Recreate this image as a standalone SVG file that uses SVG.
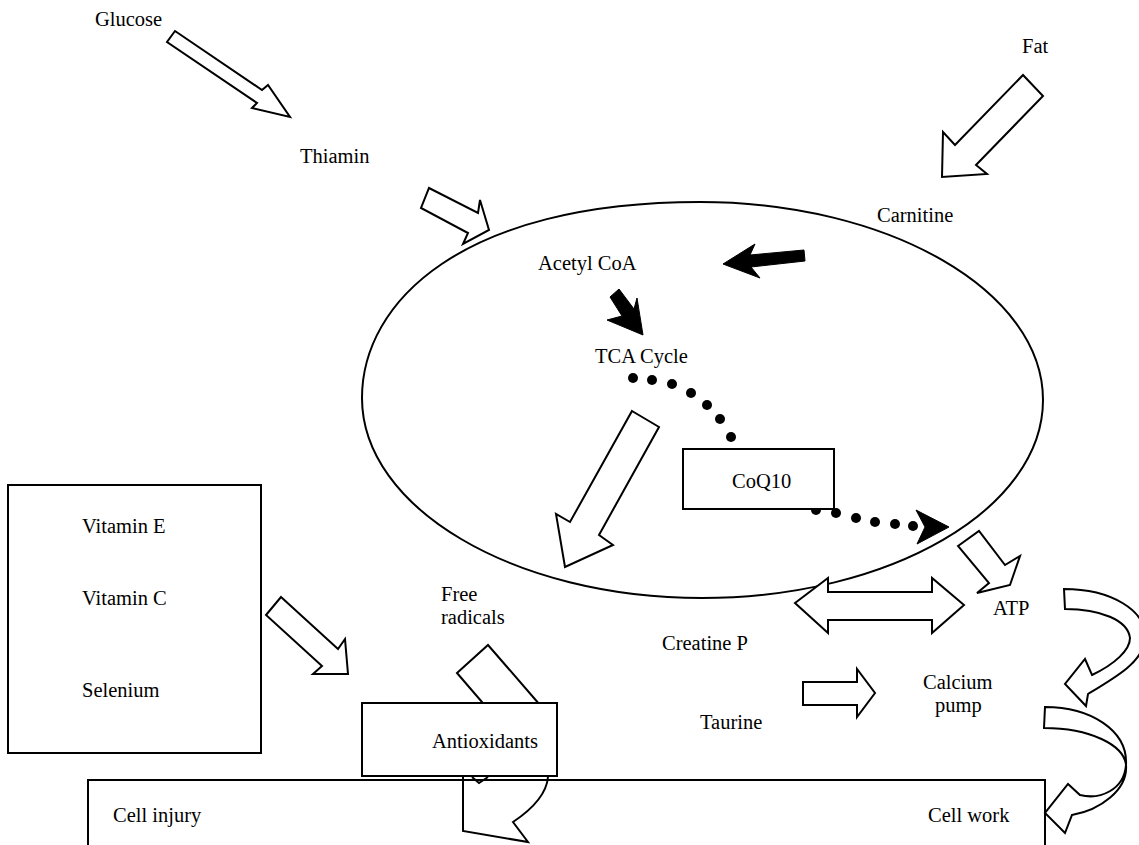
<svg xmlns="http://www.w3.org/2000/svg" width="1139" height="845" viewBox="0 0 1139 845">
<style>
text{font-family:"Liberation Serif","Times New Roman",serif;font-size:20.5px;fill:#000}
.hol{fill:#fff;stroke:#000;stroke-width:2;stroke-linejoin:miter}
.sol{fill:#000;stroke:#000;stroke-width:1}
.box{fill:#fff;stroke:#000;stroke-width:2}
.line{fill:none;stroke:#000;stroke-width:2}
.dot{fill:#000}
</style>
<rect width="1139" height="845" fill="#fff"/>
<g id="mitochondrion">
<path class="line" d="M362,398 C362,302 462,202 700,202 C889,202 1043,291 1043,400 C1043,509 890,598 702,598 C514,598 362,508 362,398 Z"/>
</g>
<g id="connectors">
<polygon class="hol" points="175,31 262,90 268,85 290,117 252,108 257,103 167,42"/>
<polygon class="hol" points="1023,75 1043,96 976,165 987,174 942,177 943,132 955,145"/>
<polygon class="hol" points="429,188 478,213 480,200 489,230 463,244 468,233 421,208"/>
<polygon class="sol" points="723,264 755,244 750,255 804,250 805,261 751,267 760,278"/>
<polygon class="sol" points="610,297 619,289 634,309 637,298 643,335 607,320 622,316"/>
<g class="dot">
<circle cx="633" cy="378" r="5"/><circle cx="652" cy="380" r="5"/><circle cx="672" cy="384" r="5"/><circle cx="691" cy="393" r="5"/><circle cx="707" cy="405" r="5"/><circle cx="720" cy="419" r="5"/><circle cx="731" cy="437" r="5"/>
<circle cx="816" cy="510" r="5"/><circle cx="836" cy="513" r="5"/><circle cx="856" cy="518" r="5"/><circle cx="875" cy="522" r="5"/><circle cx="895" cy="524" r="5"/><circle cx="913" cy="526" r="5"/>
</g>
<polygon class="sol" points="916,510 949,527 917,544 925,527"/>
<polygon class="hol" points="632,411 659,427 599,535 613,545 565,567 556,514 570,522"/>
<polygon class="hol" points="958,546 979,531 1005,565 1020,556 1010,585 977,593 989,583"/>
<polygon class="hol" points="795,603 828,578 828,592 932,592 932,578 964,605 932,633 932,620 828,620 828,633"/>
<polygon class="hol" points="803,682 857,682 857,669 875,693 857,717 857,705 803,705"/>
<polygon class="hol" points="281,597 338,649 345,639 348,674 313,674 322,666 266,615"/>
<path class="hol" d="M457,673 L488,645 L540,705 L548,777 Q546,800 513,822 L528,842 L463,831 L463,777 L482,702 Z"/>
<path class="hol" d="M1064,589 C1110,589 1148,610 1145,640 C1142,662 1118,676 1088,694 L1086,706 L1065,684 L1085,659 L1092,675 C1115,664 1130,650 1130,638 C1128,620 1100,609 1065,609 Z"/>
<path class="hol" d="M1045,707 C1090,707 1128,730 1126,765 C1124,790 1100,800 1080,795 L1068,784 L1045,813 L1065,833 L1072,815 C1100,810 1128,790 1126,765 C1124,745 1090,728 1044,728 Z"/>
</g>
<g id="cell">
<path class="line" d="M88,845 L88,780 L1045,780 L1045,845"/>
<text x="113" y="822">Cell injury</text>
<text x="928" y="822">Cell work</text>
</g>
<g id="antioxidants">
<rect class="box" x="362" y="703" width="195" height="73"/>
<path class="line" d="M472,777 L479,783 L488,777"/>
<text x="432" y="748">Antioxidants</text>
</g>
<g id="vitamins">
<rect class="box" x="8" y="485" width="253" height="268"/>
<text x="82" y="533">Vitamin E</text>
<text x="82" y="605">Vitamin C</text>
<text x="82" y="697">Selenium</text>
</g>
<g id="coq10">
<rect class="box" x="683" y="449" width="151" height="60"/>
<text x="732" y="488">CoQ10</text>
</g>
<g id="glucose"><text x="95" y="26">Glucose</text></g>
<g id="thiamin"><text x="300" y="163">Thiamin</text></g>
<g id="fat"><text x="1022" y="53">Fat</text></g>
<g id="carnitine"><text x="877" y="222">Carnitine</text></g>
<g id="acetylcoa"><text x="538" y="270">Acetyl CoA</text></g>
<g id="tca"><text x="595" y="363">TCA Cycle</text></g>
<g id="freeradicals"><text x="441" y="601">Free</text><text x="441" y="624">radicals</text></g>
<g id="creatinep"><text x="662" y="650">Creatine P</text></g>
<g id="atp"><text x="993" y="615">ATP</text></g>
<g id="taurine"><text x="700" y="729">Taurine</text></g>
<g id="calciumpump"><text x="923" y="689">Calcium</text><text x="935" y="712">pump</text></g>
</svg>
